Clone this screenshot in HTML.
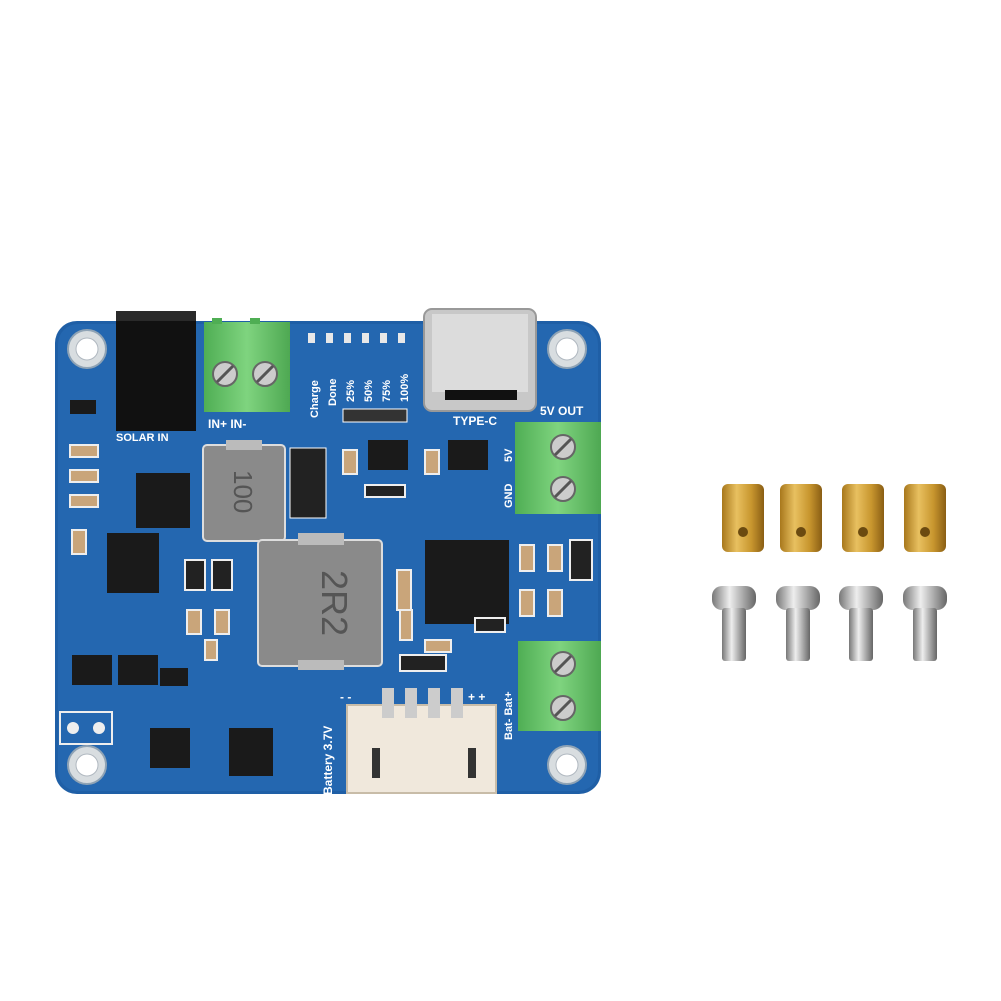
<!DOCTYPE html>
<html><head><meta charset="utf-8"><style>
html,body{margin:0;padding:0;background:#fff;width:1001px;height:1001px;overflow:hidden}
svg{display:block}
text{font-family:"Liberation Sans",sans-serif;font-weight:bold;fill:#fff}
</style></head><body>
<svg width="1001" height="1001" viewBox="0 0 1001 1001">
<defs>
<linearGradient id="brass" x1="0" x2="1"><stop offset="0" stop-color="#a8781c"/><stop offset=".35" stop-color="#e8c060"/><stop offset=".7" stop-color="#c8962e"/><stop offset="1" stop-color="#8a5e14"/></linearGradient>
<linearGradient id="steel" x1="0" x2="1"><stop offset="0" stop-color="#777"/><stop offset=".4" stop-color="#eee"/><stop offset=".7" stop-color="#aaa"/><stop offset="1" stop-color="#666"/></linearGradient>
<linearGradient id="green" x1="0" x2="1"><stop offset="0" stop-color="#4fae54"/><stop offset=".5" stop-color="#7fd47f"/><stop offset="1" stop-color="#4ea852"/></linearGradient>
</defs>
<rect x="55" y="321" width="546" height="473" rx="22" fill="#1f5fa6"/>
<rect x="58" y="324" width="540" height="467" rx="20" fill="#2467b0"/>
<g fill="#d8dde0" stroke="#8fa3b5" stroke-width="2">
<circle cx="87" cy="349" r="19"/><circle cx="567" cy="349" r="19"/><circle cx="87" cy="765" r="19"/><circle cx="567" cy="765" r="19"/></g>
<g fill="#fff" stroke="#b0b8c0"><circle cx="87" cy="349" r="11"/><circle cx="567" cy="349" r="11"/><circle cx="87" cy="765" r="11"/><circle cx="567" cy="765" r="11"/></g>
<rect x="116" y="311" width="80" height="120" fill="#111"/>
<rect x="116" y="311" width="80" height="10" fill="#2a2a2a"/>
<text x="116" y="441" font-size="11">SOLAR IN</text>
<rect x="204" y="322" width="86" height="90" fill="url(#green)"/>
<rect x="212" y="318" width="10" height="6" fill="#4fae54"/><rect x="250" y="318" width="10" height="6" fill="#4fae54"/>
<g fill="#ccc" stroke="#666" stroke-width="2"><circle cx="225" cy="374" r="12"/><circle cx="265" cy="374" r="12"/></g>
<g stroke="#555" stroke-width="3"><line x1="217" y1="382" x2="233" y2="366"/><line x1="257" y1="382" x2="273" y2="366"/></g>
<text x="208" y="428" font-size="12">IN+  IN-</text>
<g font-size="11">
<text transform="translate(318,418) rotate(-90)">Charge</text>
<text transform="translate(336,406) rotate(-90)">Done</text>
<text transform="translate(354,402) rotate(-90)">25%</text>
<text transform="translate(372,402) rotate(-90)">50%</text>
<text transform="translate(390,402) rotate(-90)">75%</text>
<text transform="translate(408,402) rotate(-90)">100%</text>
</g>
<g fill="#e8e8e8"><rect x="308" y="333" width="7" height="10"/><rect x="326" y="333" width="7" height="10"/><rect x="344" y="333" width="7" height="10"/><rect x="362" y="333" width="7" height="10"/><rect x="380" y="333" width="7" height="10"/><rect x="398" y="333" width="7" height="10"/></g>
<rect x="343" y="409" width="64" height="13" fill="#333" stroke="#fff"/>
<rect x="424" y="309" width="112" height="102" rx="8" fill="#c8c8c8" stroke="#999" stroke-width="2"/>
<rect x="432" y="314" width="96" height="78" fill="#dcdcdc"/>
<rect x="445" y="390" width="72" height="10" fill="#111"/>
<text x="453" y="425" font-size="12">TYPE-C</text>
<text x="540" y="415" font-size="12">5V OUT</text>
<rect x="515" y="422" width="86" height="92" fill="url(#green)"/>
<g fill="#ccc" stroke="#666" stroke-width="2"><circle cx="563" cy="447" r="12"/><circle cx="563" cy="489" r="12"/></g>
<g stroke="#555" stroke-width="3"><line x1="555" y1="455" x2="571" y2="439"/><line x1="555" y1="497" x2="571" y2="481"/></g>
<text transform="translate(512,508) rotate(-90)" font-size="11">GND</text>
<text transform="translate(512,462) rotate(-90)" font-size="11">5V</text>
<rect x="518" y="641" width="83" height="90" fill="url(#green)"/>
<g fill="#ccc" stroke="#666" stroke-width="2"><circle cx="563" cy="664" r="12"/><circle cx="563" cy="708" r="12"/></g>
<g stroke="#555" stroke-width="3"><line x1="555" y1="672" x2="571" y2="656"/><line x1="555" y1="716" x2="571" y2="700"/></g>
<text transform="translate(512,740) rotate(-90)" font-size="11">Bat- Bat+</text>
<rect x="203" y="445" width="82" height="96" rx="4" fill="#8a8a8a" stroke="#ddd" stroke-width="2"/>
<rect x="226" y="440" width="36" height="10" fill="#bbb"/>
<text transform="translate(234,470) rotate(90)" font-size="26" style="fill:#555;font-weight:normal">100</text>
<rect x="290" y="448" width="36" height="70" fill="#222" stroke="#fff"/>
<rect x="258" y="540" width="124" height="126" rx="4" fill="#8a8a8a" stroke="#ddd" stroke-width="2"/>
<rect x="298" y="533" width="46" height="12" fill="#bbb"/><rect x="298" y="660" width="46" height="10" fill="#bbb"/>
<text transform="translate(322,570) rotate(90)" font-size="36" style="fill:#555;font-weight:normal">2R2</text>
<rect x="136" y="473" width="54" height="55" fill="#1a1a1a"/>
<rect x="107" y="533" width="52" height="60" fill="#1a1a1a"/>
<rect x="425" y="540" width="84" height="84" fill="#1a1a1a"/>
<rect x="368" y="440" width="40" height="30" fill="#1a1a1a"/>
<rect x="448" y="440" width="40" height="30" fill="#1a1a1a"/>
<rect x="72" y="655" width="40" height="30" fill="#1a1a1a"/>
<rect x="118" y="655" width="40" height="30" fill="#1a1a1a"/>
<rect x="160" y="668" width="28" height="18" fill="#1a1a1a"/>
<rect x="150" y="728" width="40" height="40" fill="#1a1a1a"/>
<rect x="229" y="728" width="44" height="48" fill="#1a1a1a"/>
<rect x="70" y="400" width="26" height="14" fill="#1a1a1a"/>
<g fill="#c9a57a" stroke="#eee" stroke-width="2">
<rect x="70" y="445" width="28" height="12"/><rect x="70" y="470" width="28" height="12"/><rect x="70" y="495" width="28" height="12"/><rect x="72" y="530" width="14" height="24"/>
<rect x="343" y="450" width="14" height="24"/><rect x="425" y="450" width="14" height="24"/>
<rect x="187" y="610" width="14" height="24"/><rect x="215" y="610" width="14" height="24"/>
<rect x="520" y="545" width="14" height="26"/><rect x="548" y="545" width="14" height="26"/>
<rect x="520" y="590" width="14" height="26"/><rect x="548" y="590" width="14" height="26"/>
<rect x="397" y="570" width="14" height="40"/><rect x="425" y="640" width="26" height="12"/>
<rect x="205" y="640" width="12" height="20"/><rect x="400" y="610" width="12" height="30"/>
</g>
<g fill="#222" stroke="#eee" stroke-width="2">
<rect x="185" y="560" width="20" height="30"/><rect x="212" y="560" width="20" height="30"/>
<rect x="570" y="540" width="22" height="40"/><rect x="400" y="655" width="46" height="16"/>
<rect x="365" y="485" width="40" height="12"/><rect x="475" y="618" width="30" height="14"/>
</g>
<rect x="60" y="712" width="52" height="32" fill="none" stroke="#eee" stroke-width="2"/>
<g fill="#eee"><circle cx="73" cy="728" r="6"/><circle cx="99" cy="728" r="6"/></g>
<rect x="347" y="705" width="149" height="88" fill="#f0e8dc" stroke="#c8bca8" stroke-width="2"/>
<rect x="372" y="748" width="8" height="30" fill="#333"/><rect x="468" y="748" width="8" height="30" fill="#333"/>
<g fill="#ccc"><rect x="382" y="688" width="12" height="30"/><rect x="405" y="688" width="12" height="30"/><rect x="428" y="688" width="12" height="30"/><rect x="451" y="688" width="12" height="30"/></g>
<text transform="translate(332,795) rotate(-90)" font-size="12">Battery 3.7V</text>
<text x="340" y="701" font-size="12">- -</text><text x="468" y="701" font-size="12">+ +</text>
<g fill="url(#brass)">
<rect x="722" y="484" width="42" height="68" rx="6"/><rect x="780" y="484" width="42" height="68" rx="6"/>
<rect x="842" y="484" width="42" height="68" rx="6"/><rect x="904" y="484" width="42" height="68" rx="6"/></g>
<g fill="#6b4a10"><circle cx="743" cy="532" r="5"/><circle cx="801" cy="532" r="5"/><circle cx="863" cy="532" r="5"/><circle cx="925" cy="532" r="5"/></g>
<g fill="url(#steel)">
<rect x="712" y="586" width="44" height="24" rx="10"/><rect x="776" y="586" width="44" height="24" rx="10"/>
<rect x="839" y="586" width="44" height="24" rx="10"/><rect x="903" y="586" width="44" height="24" rx="10"/>
<rect x="722" y="608" width="24" height="53" rx="3"/><rect x="786" y="608" width="24" height="53" rx="3"/>
<rect x="849" y="608" width="24" height="53" rx="3"/><rect x="913" y="608" width="24" height="53" rx="3"/></g>
</svg>
</body></html>
